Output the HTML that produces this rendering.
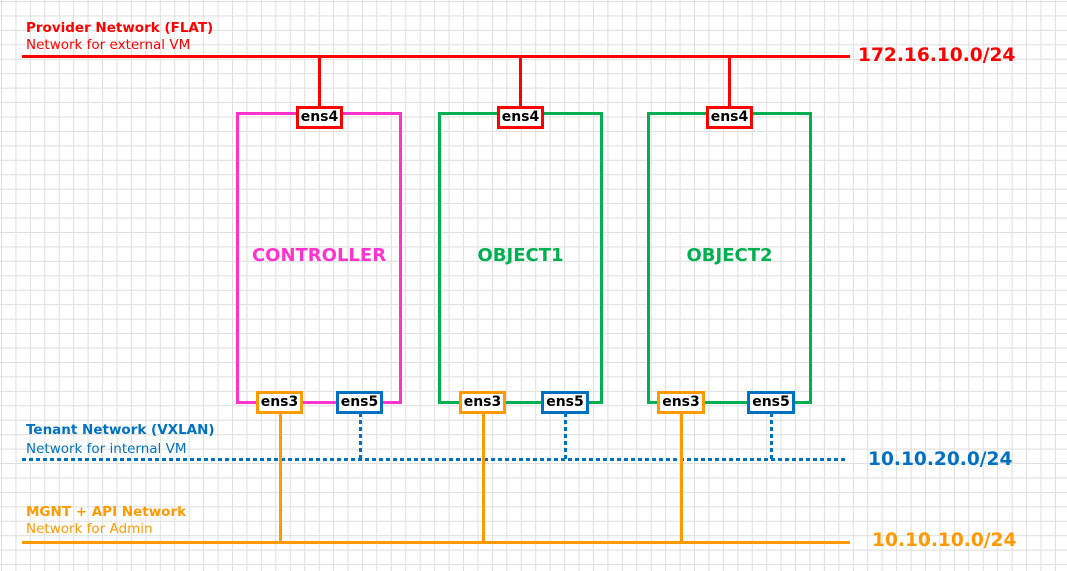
<!DOCTYPE html>
<html><head><meta charset="utf-8"><style>
html,body{margin:0;padding:0;}
body{width:1067px;height:571px;position:relative;overflow:hidden;background:#fff;
background-image:linear-gradient(to right,#dedede 1px,transparent 1px),linear-gradient(to bottom,#dedede 1px,transparent 1px);
background-size:14.45px 14.45px;background-position:1px 1px;font-family:"DejaVu Sans",sans-serif;}
.a{position:absolute;}
.t{position:absolute;white-space:nowrap;font-size:13.5px;line-height:16px;}
.b{font-weight:bold;}
.box{position:absolute;border:3px solid;box-sizing:border-box;background:transparent;}
.p{position:absolute;background:#fff;border:3px solid;box-sizing:border-box;font-weight:bold;font-size:14px;line-height:17px;text-align:center;color:#000;}
.node{position:absolute;font-weight:bold;font-size:18px;text-align:center;}
.big{font-size:18.6px;line-height:22px;font-weight:bold;}
</style></head><body>
<!-- red -->
<div class="t b" style="left:26px;top:20px;color:#f00">Provider Network (FLAT)</div>
<div class="t" style="left:26px;top:37px;color:#f00">Network for external VM</div>
<div class="a" style="left:22px;top:55px;width:828px;height:3px;background:#f00"></div>
<div class="t big" style="left:858px;top:45px;color:#f00">172.16.10.0/24</div>
<div class="a" style="left:318px;top:56px;width:3px;height:52px;background:#f00"></div>
<div class="a" style="left:519px;top:56px;width:3px;height:52px;background:#f00"></div>
<div class="a" style="left:728px;top:56px;width:3px;height:52px;background:#f00"></div>
<!-- boxes -->
<div class="box" style="left:236px;top:112px;width:166px;height:292px;border-color:#ff33cc"></div>
<div class="box" style="left:438px;top:112px;width:165px;height:292px;border-color:#00b050"></div>
<div class="box" style="left:647px;top:112px;width:165px;height:292px;border-color:#00b050"></div>
<div class="node" style="left:237px;top:245px;width:164px;color:#ff33cc">CONTROLLER</div>
<div class="node" style="left:439px;top:245px;width:163px;color:#00b050">OBJECT1</div>
<div class="node" style="left:648px;top:245px;width:163px;color:#00b050">OBJECT2</div>
<!-- blue -->
<div class="t b" style="left:26px;top:422px;color:#0070c0">Tenant Network (VXLAN)</div>
<div class="t" style="left:26px;top:441px;color:#0070c0">Network for internal VM</div>
<svg class="a" style="left:0;top:0" width="1067" height="571">
<g stroke="#0070c0" stroke-width="3" stroke-dasharray="4 3" fill="none">
<line x1="22" y1="459.5" x2="846" y2="459.5"/>
<line x1="360.5" y1="413" x2="360.5" y2="459"/>
<line x1="565.5" y1="413" x2="565.5" y2="459"/>
<line x1="771.5" y1="413" x2="771.5" y2="459"/>
</g></svg>
<div class="t big" style="left:868px;top:449px;color:#0070c0">10.10.20.0/24</div>
<!-- orange -->
<div class="t b" style="left:26px;top:504px;color:#ff9900">MGNT + API Network</div>
<div class="t" style="left:26px;top:521px;color:#ff9900">Network for Admin</div>
<div class="a" style="left:22px;top:541px;width:828px;height:3px;background:#ff9900"></div>
<div class="a" style="left:279px;top:410px;width:3px;height:132px;background:#ff9900"></div>
<div class="a" style="left:482px;top:410px;width:3px;height:132px;background:#ff9900"></div>
<div class="a" style="left:680px;top:410px;width:3px;height:132px;background:#ff9900"></div>
<div class="t big" style="left:872px;top:530px;color:#ff9900">10.10.10.0/24</div>
<!-- ports -->
<div class="p" style="left:296px;top:106px;width:47px;height:23px;border-color:#f00">ens4</div>
<div class="p" style="left:497px;top:106px;width:47px;height:23px;border-color:#f00">ens4</div>
<div class="p" style="left:706px;top:106px;width:47px;height:23px;border-color:#f00">ens4</div>
<div class="p" style="left:256px;top:391px;width:47px;height:23px;border-color:#ff9900">ens3</div>
<div class="p" style="left:336px;top:391px;width:47px;height:23px;border-color:#0070c0">ens5</div>
<div class="p" style="left:459px;top:391px;width:47px;height:23px;border-color:#ff9900">ens3</div>
<div class="p" style="left:541px;top:391px;width:48px;height:23px;border-color:#0070c0">ens5</div>
<div class="p" style="left:657px;top:391px;width:48px;height:23px;border-color:#ff9900">ens3</div>
<div class="p" style="left:747px;top:391px;width:48px;height:23px;border-color:#0070c0">ens5</div>
</body></html>
